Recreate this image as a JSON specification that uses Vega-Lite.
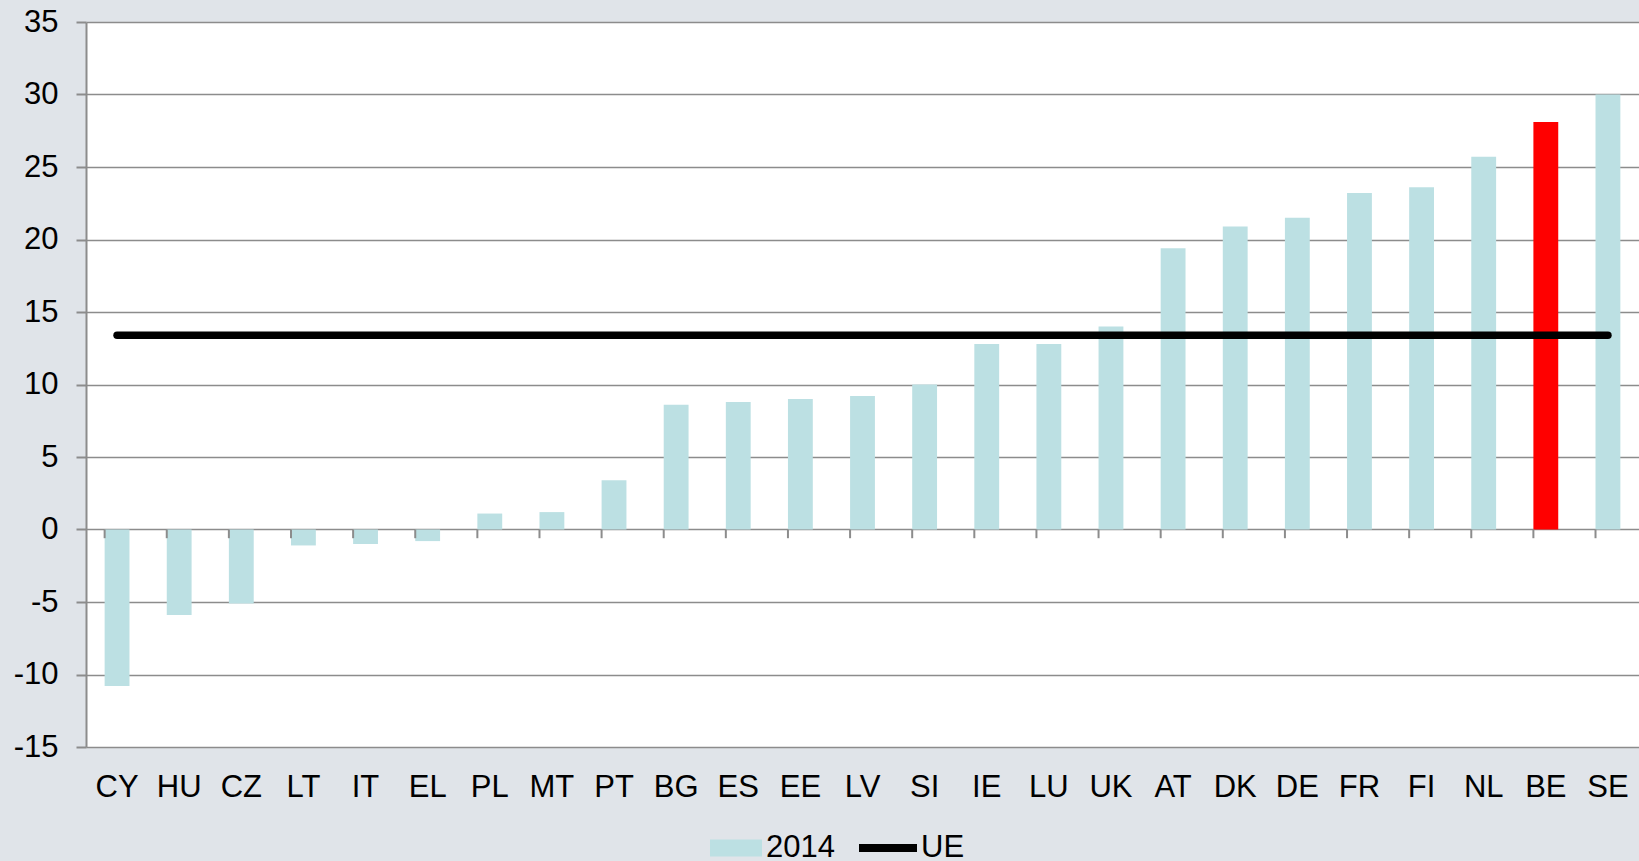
{
  "$schema": "https://vega.github.io/schema/vega-lite/v6.json",
  "autosize": "none",
  "padding": {"left": 86, "top": 22, "right": 0, "bottom": 114},
  "width": 1553,
  "height": 725,
  "background": "#e0e4e9",
  "config": {
    "view": {"fill": "white", "stroke": null},
    "font": "Liberation Sans",
    "axis": {"labelFont": "Liberation Sans", "labelColor": "black"},
    "legend": {"labelFont": "Liberation Sans"}
  },
  "data": {
    "values": [
      {"c": "CY", "v": -10.8, "s": "2014", "ue": 13.4},
      {"c": "HU", "v": -5.9, "s": "2014", "ue": 13.4},
      {"c": "CZ", "v": -5.1, "s": "2014", "ue": 13.4},
      {"c": "LT", "v": -1.1, "s": "2014", "ue": 13.4},
      {"c": "IT", "v": -1.0, "s": "2014", "ue": 13.4},
      {"c": "EL", "v": -0.8, "s": "2014", "ue": 13.4},
      {"c": "PL", "v": 1.1, "s": "2014", "ue": 13.4},
      {"c": "MT", "v": 1.2, "s": "2014", "ue": 13.4},
      {"c": "PT", "v": 3.4, "s": "2014", "ue": 13.4},
      {"c": "BG", "v": 8.6, "s": "2014", "ue": 13.4},
      {"c": "ES", "v": 8.8, "s": "2014", "ue": 13.4},
      {"c": "EE", "v": 9.0, "s": "2014", "ue": 13.4},
      {"c": "LV", "v": 9.2, "s": "2014", "ue": 13.4},
      {"c": "SI", "v": 10.0, "s": "2014", "ue": 13.4},
      {"c": "IE", "v": 12.8, "s": "2014", "ue": 13.4},
      {"c": "LU", "v": 12.8, "s": "2014", "ue": 13.4},
      {"c": "UK", "v": 14.0, "s": "2014", "ue": 13.4},
      {"c": "AT", "v": 19.4, "s": "2014", "ue": 13.4},
      {"c": "DK", "v": 20.9, "s": "2014", "ue": 13.4},
      {"c": "DE", "v": 21.5, "s": "2014", "ue": 13.4},
      {"c": "FR", "v": 23.2, "s": "2014", "ue": 13.4},
      {"c": "FI", "v": 23.6, "s": "2014", "ue": 13.4},
      {"c": "NL", "v": 25.7, "s": "2014", "ue": 13.4},
      {"c": "BE", "v": 28.1, "s": "2014", "ue": 13.4},
      {"c": "SE", "v": 30.0, "s": "2014", "ue": 13.4}
    ]
  },
  "encoding": {
    "x": {
      "field": "c",
      "type": "nominal",
      "sort": null,
      "scale": {"paddingInner": 0.6, "paddingOuter": 0.3},
      "axis": {
        "title": null,
        "labelAngle": 0,
        "labelFontSize": 31,
        "labelPadding": 25,
        "ticks": false,
        "domain": false,
        "grid": false
      }
    }
  },
  "layer": [
    {
      "mark": {"type": "bar", "clip": false},
      "encoding": {
        "y": {
          "field": "v",
          "type": "quantitative",
          "scale": {"domain": [-15, 35], "nice": false, "zero": false},
          "axis": {
            "title": null,
            "values": [-15, -10, -5, 0, 5, 10, 15, 20, 25, 30, 35],
            "labelExpr": "toString(datum.value)",
            "labelFontSize": 31,
            "labelPadding": 18,
            "tickSize": 10,
            "tickColor": "#8c8c8c",
            "tickWidth": 2,
            "domainColor": "#8c8c8c",
            "domainWidth": 2,
            "gridColor": "#8c8c8c",
            "gridWidth": 1.6,
            "gridOpacity": 1
          }
        },
        "fill": {
          "condition": {"test": "datum.c === 'BE'", "value": "#ff0000"},
          "field": "s",
          "type": "nominal",
          "scale": {"domain": ["2014"], "range": ["#bce0e3"]},
          "legend": {
            "title": null,
            "orient": "none",
            "legendX": 624,
            "legendY": 800,
            "direction": "horizontal",
            "symbolType": "M-1,-0.33H1V0.33H-1Z",
            "symbolSize": 2704,
            "symbolStrokeWidth": 0,
            "symbolOpacity": 1,
            "labelFontSize": 31,
            "labelColor": "black",
            "labelOffset": 4
          }
        }
      }
    },
    {
      "mark": {"type": "rule", "color": "#8c8c8c", "strokeWidth": 2},
      "encoding": {
        "x": {"field": "c", "type": "nominal", "sort": null, "bandPosition": 0},
        "y": {"datum": 0, "type": "quantitative"},
        "y2": {"datum": -0.6}
      }
    },
    {
      "mark": {"type": "line", "strokeWidth": 7.5, "strokeCap": "round"},
      "encoding": {
        "y": {"field": "ue", "type": "quantitative"},
        "stroke": {
          "datum": "UE",
          "scale": {"domain": ["UE"], "range": ["black"]},
          "legend": {
            "title": null,
            "orient": "none",
            "legendX": 769,
            "legendY": 793,
            "direction": "horizontal",
            "symbolType": "stroke",
            "symbolSize": 3364,
            "symbolStrokeWidth": 8,
            "labelFontSize": 31,
            "labelColor": "black",
            "labelOffset": 0
          }
        }
      }
    }
  ],
  "resolve": {"scale": {"fill": "independent", "stroke": "independent"}}
}
